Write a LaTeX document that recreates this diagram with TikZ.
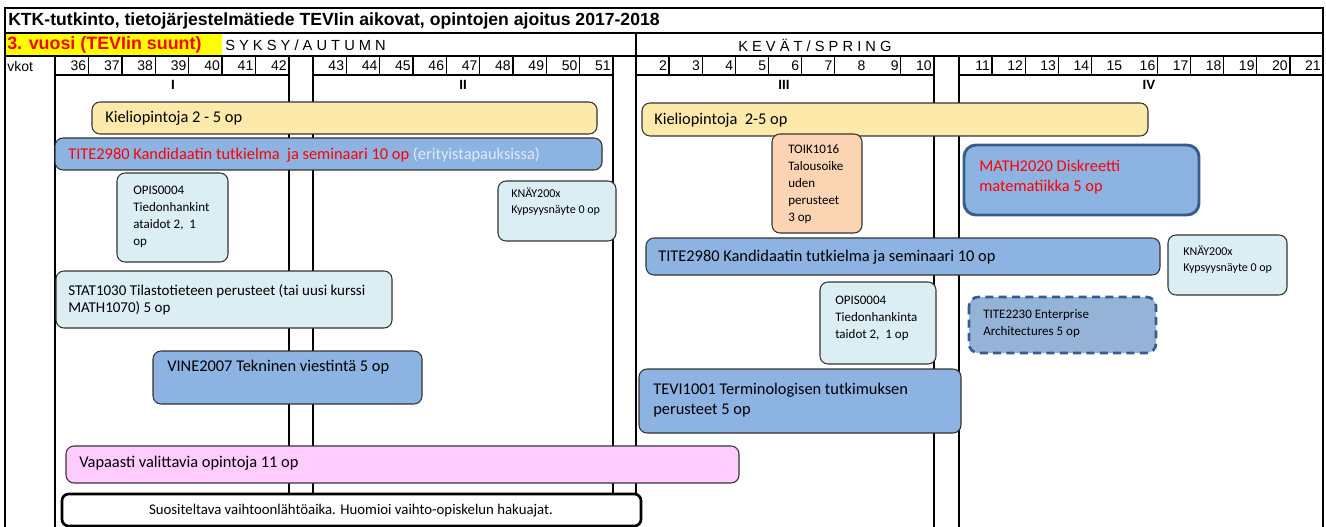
\documentclass[tikz,border=0pt]{standalone}
\usepackage{fontspec}
\setmainfont{Carlito}
\newfontfamily\arialfont{Liberation Sans}
\definecolor{otsikkokeltainen}{RGB}{255,255,0}
\definecolor{kielikeltainen}{RGB}{253,234,171}
\definecolor{kurssisininen}{RGB}{141,179,226}
\definecolor{vaaleasininen}{RGB}{219,238,243}
\definecolor{persikka}{RGB}{251,212,180}
\definecolor{vaaleanpunainen}{RGB}{255,204,255}
\definecolor{harmaasininen}{RGB}{149,179,215}
\definecolor{tummasininen}{RGB}{56,93,138}
\definecolor{haalea}{RGB}{225,234,245}
\newcommand{\isokoko}{\fontsize{12.3}{14.6}\selectfont}
\newcommand{\keskikoko}{\fontsize{11.25}{12.8}\selectfont}
\newcommand{\pienikoko}{\fontsize{9.75}{12.8}\selectfont}
\newcommand{\minikoko}{\fontsize{9}{11.8}\selectfont}
\tikzset{
  kehys/.style={line width=1.6pt},
  viiva/.style={line width=1.4pt},
  erotin/.style={line width=1pt},
  kurssi/.style={draw=black!80, line width=0.8pt, rounded corners=6pt},
  teksti/.style={anchor=north west, inner sep=0pt, align=left, font=\isokoko},
  viikko/.style={anchor=east, inner sep=0pt, font=\arialfont\fontsize{10.5}{12}\selectfont},
  jakso/.style={inner sep=0pt, font=\arialfont\bfseries\fontsize{10}{12}\selectfont},
  kausi/.style={anchor=west, inner sep=0pt, font=\arialfont\fontsize{11}{13}\selectfont}
}
\begin{document}
\begin{tikzpicture}[x=0.75pt,y=-0.75pt]
			%%%%% START %%%%%
			\useasboundingbox (0,0) rectangle (1326,527);
			
			\fill[otsikkokeltainen] (5,33) rectangle (222,56);
			\draw[kehys] (5,527) -- (5,8) -- (1323,8) -- (1323,527);
			\draw[viiva] (5,33) -- (1323,33);
			\draw[viiva] (5,56) -- (1323,56);
			\foreach \xa/\xb in {55/289,313/613,636/934,959/1323}
				\draw[viiva] (\xa,75) -- (\xb,75);
			\foreach \xv in {55,289,313,613,934,959}
				\draw[viiva] (\xv,56) -- (\xv,527);
			\draw[viiva] (636,33) -- (636,527);
			
			\node[anchor=west, inner sep=0pt, font=\arialfont\bfseries\fontsize{13.2}{15}\selectfont] (otsikko) at (8,21) {KTK-tutkinto, tietojärjestelmätiede TEVIin aikovat, opintojen ajoitus 2017-2018};
			\node[anchor=west, inner sep=0pt, text=red, font=\arialfont\bfseries\fontsize{13.4}{15}\selectfont] (vuosi) at (7,45) {3. vuosi (TEVIin suunt)};
			\node[kausi] (syksy) at (225,45) {S Y K S Y / A U T U M N};
			\node[kausi] (kevat) at (738,45) {K E V Ä T / S P R I N G};
			\node[anchor=west, inner sep=0pt, font=\arialfont\fontsize{10.5}{12}\selectfont] (vkot) at (7,66) {vkot};
			
			%% viikot
			\foreach \vk [count=\i] in {36,...,42}
				\node[viikko] (vk\vk) at ({55+\i*33.43-2},66) {\vk};
			\foreach \i in {1,...,6}
				\draw[erotin] ({55+\i*33.43},56) -- ({55+\i*33.43},75);
			\foreach \vk [count=\i] in {43,...,51}
				\node[viikko] (vk\vk) at ({313+\i*33.33-2},66) {\vk};
			\foreach \i in {1,...,8}
				\draw[erotin] ({313+\i*33.33},56) -- ({313+\i*33.33},75);
			\foreach \vk [count=\i] in {2,...,10}
				\node[viikko] (vk\vk) at ({636+\i*33.1-2},66) {\vk};
			\foreach \i in {1,...,6,8}
				\draw[erotin] ({636+\i*33.1},56) -- ({636+\i*33.1},75);
			\foreach \vk [count=\i] in {11,...,21}
				\node[viikko] (vk\vk) at ({959+\i*33.09-2},66) {\vk};
			\foreach \i in {1,2,3,4,6,7,8,9,10}
				\draw[erotin] ({959+\i*33.09},56) -- ({959+\i*33.09},75);
			
			\node[jakso] (jakso1) at (173,85) {I};
			\node[jakso] (jakso2) at (463,85) {II};
			\node[jakso] (jakso3) at (784,85) {III};
			\node[jakso] (jakso4) at (1149,85) {IV};
			
			%% syksy
			\draw[kurssi, fill=kielikeltainen] (92,102) rectangle (597,134);
			\node[teksti, anchor=west] (kieli1) at (105,118) {Kieliopintoja 2 - 5 op};
			
			\draw[kurssi, fill=kurssisininen] (55,138) rectangle (602,170);
			\node[teksti, anchor=west] (tite1) at (68,155) {\color{red}TITE2980 Kandidaatin tutkielma\ \ ja seminaari 10 op \color{haalea}(erityistapauksissa)};
			
			\draw[kurssi, fill=vaaleasininen] (117,173) rectangle (228,262);
			\node[teksti, font=\pienikoko] (opis1) at (133,186) {OPIS0004\\Tiedonhankint\\ataidot 2,\ \ 1\\op};
			
			\draw[kurssi, fill=vaaleasininen] (498,181) rectangle (616,241);
			\node[teksti, font=\minikoko] (knay1) at (511,188) {KNÄY200x\\Kypsyysnäyte 0 op};
			
			\draw[kurssi, fill=vaaleasininen] (56,271) rectangle (392,328);
			\node[teksti, font=\keskikoko] (stat) at (68,284) {STAT1030 Tilastotieteen perusteet (tai uusi kurssi\\MATH1070) 5 op};
			
			\draw[kurssi, fill=kurssisininen] (153,351) rectangle (422,404);
			\node[teksti, anchor=west] (vine) at (167,367) {VINE2007 Tekninen viestintä 5 op};
			
			%% kevät
			\draw[kurssi, fill=kielikeltainen] (642,103) rectangle (1148,136);
			\node[teksti, anchor=west] (kieli2) at (654,120) {Kieliopintoja\ \ 2-5 op};
			
			\draw[kurssi, fill=persikka] (772,134) rectangle (862,233);
			\node[teksti, font=\pienikoko] (toik) at (788,144) {TOIK1016\\Talousoike\\uden\\perusteet\\3 op};
			
			\draw[line width=2.2pt, draw=tummasininen, rounded corners=9pt, fill=kurssisininen] (964,145) rectangle (1199,215);
			\node[teksti, text=red] (math) at (979,160) {MATH2020 Diskreetti\\matematiikka 5 op};
			
			\draw[kurssi, fill=kurssisininen] (646,238) rectangle (1160,275);
			\node[teksti, anchor=west] (tite2) at (658,257) {TITE2980 Kandidaatin tutkielma ja seminaari 10 op};
			
			\draw[kurssi, fill=vaaleasininen] (1168,235) rectangle (1287,295);
			\node[teksti, font=\minikoko] (knay2) at (1183,246) {KNÄY200x\\Kypsyysnäyte 0 op};
			
			\draw[kurssi, fill=vaaleasininen] (820,282) rectangle (936,364);
			\node[teksti, font=\pienikoko] (opis2) at (835,296) {OPIS0004\\Tiedonhankinta\\taidot 2,\ \ 1 op};
			
			\draw[line width=2pt, draw=tummasininen, dashed, dash pattern=on 6pt off 4pt, rounded corners=7pt, fill=harmaasininen] (969,297) rectangle (1156,353);
			\node[teksti, font=\pienikoko] (tite2230) at (983,309) {TITE2230 Enterprise\\Architectures 5 op};
			
			\draw[kurssi, fill=kurssisininen] (639,369) rectangle (961,433);
			\node[teksti] (tevi) at (653,383) {TEVI1001 Terminologisen tutkimuksen\\perusteet 5 op};
			
			%% koko vuosi
			\draw[kurssi, fill=vaaleanpunainen] (66,446) rectangle (739,483);
			\node[teksti, anchor=west] (vapaa) at (79,463) {Vapaasti valittavia opintoja 11 op};
			
			\draw[line width=2pt, rounded corners=5pt, fill=white] (62,494) rectangle (641,526);
			\node[inner sep=0pt, font=\fontsize{11.1}{13}\selectfont] (vaihto) at (351,511) {Suositeltava vaihtoonlähtöaika. Huomioi vaihto-opiskelun hakuajat.};
			
			%%%%% END %%%%%
\end{tikzpicture}
\end{document}
